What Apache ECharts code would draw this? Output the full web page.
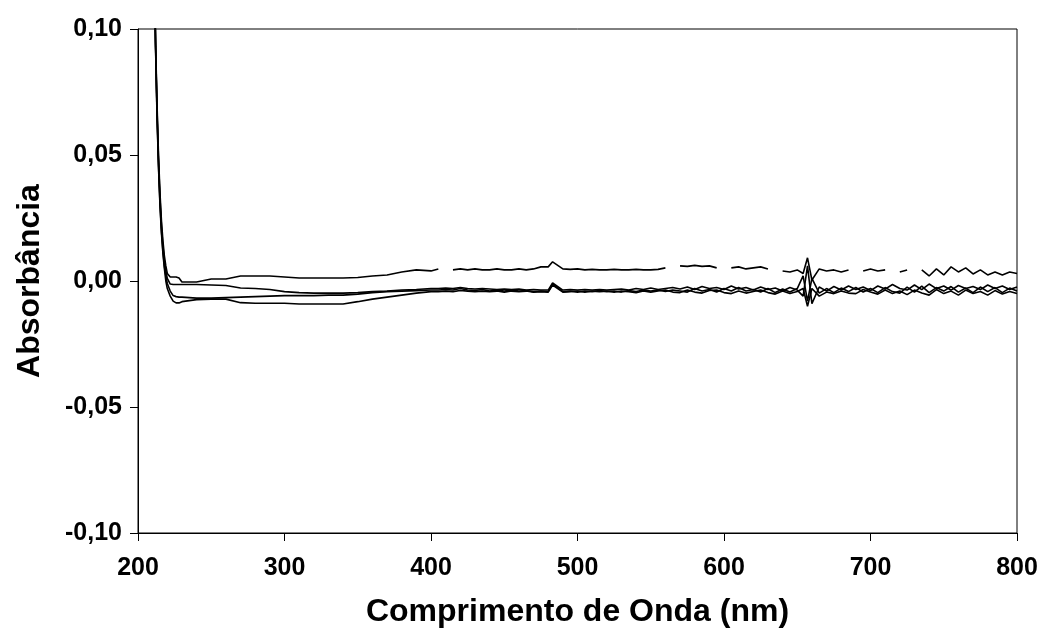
<!DOCTYPE html>
<html>
<head>
<meta charset="utf-8">
<script src="https://cdn.jsdelivr.net/npm/echarts@6/dist/echarts.min.js"></script>
<style>
html,body{margin:0;padding:0;background:#fff;}
#chart{width:1042px;height:639px;}
</style>
</head>
<body>
<div id="chart"></div>
<script>
// Wavelength grid (nm)
const wavelengths = [
  210,211,212,213,214,215,216,217,218,219,220,222,224,226,228,230,
  240,250,260,270,280,290,300,310,320,330,340,350,360,370,380,390,400,
  405,410,415,420,425,430,435,440,445,450,455,460,465,470,475,480,
  483,
  490,495,500,505,510,515,520,525,530,535,540,545,550,555,560,565,570,575,580,585,590,595,600,605,610,615,620,625,630,635,640,645,650,
  654,657,
  660,665,670,675,680,685,690,695,700,705,710,715,720,725,730,735,740,745,750,755,760,765,770,775,780,785,790,795,800
];

const curve1 = [
  0.16,0.13,0.095,0.070,0.050,0.035,0.024,0.016,0.010,0.006,0.003,0.0016,0.0016,0.0016,0.0012,-0.0004,
  -0.0004,0.0008,0.0008,0.0020,0.0020,0.0020,0.0016,0.0012,0.0012,0.0012,0.0012,0.0014,0.0020,0.0024,0.0036,0.0044,0.0040,
  0.0048,null,0.0044,0.0048,0.0044,0.0048,0.0044,0.0044,0.0048,0.0044,0.0044,0.0048,0.0044,0.0048,0.0056,0.0056,
  0.0076,
  0.0048,0.0046,0.0048,0.0044,0.0046,0.0044,0.0044,0.0046,0.0044,0.0044,0.0046,0.0044,0.0044,0.0046,0.0052,null,0.0060,0.0058,0.0062,0.0058,0.0060,0.0052,null,0.0052,0.0056,0.0048,0.0052,0.0056,0.0048,null,0.0040,0.0036,0.0044,
  0.0030,0.0092,
  0.0004,0.0048,0.0040,0.0044,0.0036,0.0044,null,0.0040,0.0048,0.0040,0.0044,null,0.0036,0.0044,null,0.0044,0.0020,0.0048,0.0024,0.0056,0.0036,0.0052,0.0028,0.0044,0.0024,0.0036,0.0024,0.0036,0.0030
];

const curve2 = [
  0.16,0.13,0.094,0.068,0.048,0.033,0.022,0.014,0.008,0.004,0.001,-0.0012,-0.0014,-0.0014,-0.0014,-0.0014,
  -0.0014,-0.0016,-0.0018,-0.0028,-0.0030,-0.0034,-0.0042,-0.0046,-0.0048,-0.0048,-0.0048,-0.0046,-0.0042,-0.0040,-0.0036,-0.0034,-0.0030,
  -0.0030,-0.0028,-0.0030,-0.0026,-0.0030,-0.0032,-0.0030,-0.0032,-0.0034,-0.0032,-0.0034,-0.0032,-0.0036,-0.0034,-0.0036,-0.0036,
  -0.0008,
  -0.0036,-0.0034,-0.0036,-0.0034,-0.0036,-0.0034,-0.0036,-0.0034,-0.0032,-0.0036,-0.0030,-0.0034,-0.0028,-0.0034,-0.0030,-0.0026,-0.0032,-0.0024,-0.0034,-0.0022,-0.0030,-0.0026,-0.0034,-0.0020,-0.0032,-0.0026,-0.0036,-0.0024,-0.0034,-0.0028,-0.0040,-0.0026,-0.0036,
  -0.0060,0.0060,
  -0.0090,-0.0024,-0.0040,-0.0022,-0.0036,-0.0020,-0.0034,-0.0024,-0.0038,-0.0020,-0.0032,-0.0014,-0.0030,-0.0036,-0.0016,-0.0034,-0.0012,-0.0030,-0.0020,-0.0036,-0.0018,-0.0030,-0.0022,-0.0034,-0.0016,-0.0030,-0.0020,-0.0034,-0.0024
];

const curve3 = [
  0.16,0.13,0.093,0.066,0.046,0.031,0.020,0.012,0.006,0.002,-0.001,-0.004,-0.0058,-0.0062,-0.0064,-0.0064,
  -0.0068,-0.0068,-0.0066,-0.0064,-0.0062,-0.0060,-0.0058,-0.0058,-0.0058,-0.0056,-0.0056,-0.0052,-0.0046,-0.0042,-0.0040,-0.0038,-0.0036,
  -0.0036,-0.0034,-0.0036,-0.0030,-0.0036,-0.0038,-0.0034,-0.0040,-0.0036,-0.0040,-0.0036,-0.0040,-0.0038,-0.0042,-0.0040,-0.0042,
  -0.0012,
  -0.0042,-0.0040,-0.0044,-0.0040,-0.0042,-0.0038,-0.0042,-0.0040,-0.0044,-0.0038,-0.0042,-0.0036,-0.0040,-0.0036,-0.0042,-0.0036,-0.0040,-0.0044,-0.0030,-0.0040,-0.0034,-0.0044,-0.0030,-0.0040,-0.0026,-0.0040,-0.0034,-0.0044,-0.0030,-0.0046,-0.0032,-0.0044,-0.0030,
  0.0020,-0.0080,
  0.0010,-0.0048,-0.0030,-0.0046,-0.0028,-0.0042,-0.0026,-0.0044,-0.0030,-0.0046,-0.0026,-0.0042,-0.0048,-0.0024,-0.0044,-0.0020,-0.0046,-0.0026,-0.0040,-0.0022,-0.0044,-0.0028,-0.0046,-0.0024,-0.0042,-0.0026,-0.0046,-0.0028,-0.0040
];

const curve4 = [
  0.16,0.13,0.092,0.065,0.045,0.030,0.019,0.011,0.005,0.000,-0.003,-0.0060,-0.0080,-0.0087,-0.0087,-0.0082,
  -0.0074,-0.0072,-0.0072,-0.0086,-0.0088,-0.0088,-0.0088,-0.0091,-0.0091,-0.0091,-0.0091,-0.0082,-0.0072,-0.0064,-0.0056,-0.0048,-0.0042,
  -0.0042,-0.0040,-0.0042,-0.0038,-0.0040,-0.0042,-0.0040,-0.0042,-0.0040,-0.0044,-0.0040,-0.0042,-0.0040,-0.0044,-0.0042,-0.0044,
  -0.0016,
  -0.0044,-0.0042,-0.0040,-0.0044,-0.0040,-0.0042,-0.0040,-0.0044,-0.0040,-0.0042,-0.0046,-0.0040,-0.0044,-0.0040,-0.0036,-0.0044,-0.0046,-0.0036,-0.0044,-0.0048,-0.0038,-0.0036,-0.0046,-0.0050,-0.0040,-0.0048,-0.0042,-0.0036,-0.0046,-0.0052,-0.0040,-0.0050,-0.0042,
  -0.0030,-0.0100,
  -0.0030,-0.0060,-0.0044,-0.0050,-0.0040,-0.0048,-0.0050,-0.0034,-0.0044,-0.0052,-0.0036,-0.0050,-0.0040,-0.0054,-0.0036,-0.0048,-0.0056,-0.0034,-0.0050,-0.0040,-0.0056,-0.0036,-0.0050,-0.0042,-0.0056,-0.0038,-0.0052,-0.0042,-0.0050
];

const yTicks = [-0.10, -0.05, 0.00, 0.05, 0.10];
const xTicks = [200, 300, 400, 500, 600, 700, 800];
const xTitle = 'Comprimento de Onda (nm)';
const yTitle = 'Absorbância';

const FONT = "'Liberation Sans', Arial, Helvetica, sans-serif";

function pairs(vals) {
  return wavelengths.map((w, i) => [w, vals[i] === undefined ? null : vals[i]]);
}

const lineSeries = [curve1, curve2, curve3, curve4].map((c, idx) => ({
  type: 'line',
  name: 'c' + (idx + 1),
  data: pairs(c),
  showSymbol: false,
  symbol: 'none',
  connectNulls: false,
  clip: true,
  lineStyle: { color: '#000', width: 1.6 },
  animation: false
}));

const chart = echarts.init(document.getElementById('chart'), null, { renderer: 'canvas' });
chart.setOption({
  backgroundColor: '#fff',
  animation: false,
  grid: {
    left: 138, right: 25, top: 29, bottom: 106,
    show: true, borderColor: '#000', borderWidth: 1, backgroundColor: 'transparent'
  },
  xAxis: {
    type: 'value',
    min: xTicks[0], max: xTicks[xTicks.length - 1], interval: 100,
    name: xTitle,
    nameLocation: 'middle',
    nameGap: 63,
    nameTextStyle: { fontFamily: FONT, fontWeight: 'bold', fontSize: 32, color: '#000' },
    axisLine: { show: true, onZero: false, lineStyle: { color: '#000', width: 1 } },
    axisTick: { show: true, inside: false, length: 8, lineStyle: { color: '#000', width: 1 } },
    axisLabel: { margin: 23, fontFamily: FONT, fontWeight: 'bold', fontSize: 25, color: '#000' },
    splitLine: { show: false }
  },
  yAxis: {
    type: 'value',
    min: yTicks[0], max: yTicks[yTicks.length - 1], interval: 0.05,
    name: yTitle,
    nameLocation: 'middle',
    nameGap: 92,
    nameRotate: 90,
    nameTextStyle: { fontFamily: FONT, fontWeight: 'bold', fontSize: 32, color: '#000' },
    axisLine: { show: true, onZero: false, lineStyle: { color: '#000', width: 1 } },
    axisTick: { show: true, inside: false, length: 8, lineStyle: { color: '#000', width: 1 } },
    axisLabel: {
      margin: 16, fontFamily: FONT, fontWeight: 'bold', fontSize: 25, color: '#000',
      formatter: function (v) {
        if (Math.abs(v) < 1e-9) v = 0;
        return v.toFixed(2).replace('.', ',');
      }
    },
    splitLine: { show: false }
  },
  series: lineSeries
});
</script>
</body>
</html>
